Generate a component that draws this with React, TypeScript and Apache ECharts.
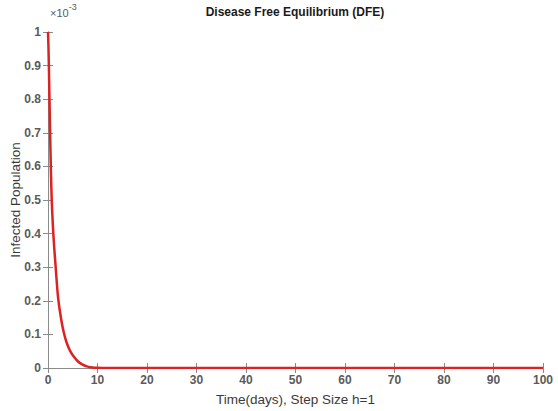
import React, { useEffect, useRef } from "react";
import * as echarts from "echarts";

const times = [0, 0.1, 0.2, 0.4, 0.6, 0.75, 1, 1.25, 1.5, 2, 2.5, 3, 3.5, 4, 4.5, 5, 6, 7, 8, 9, 10, 12, 20, 30, 40, 50, 60, 70, 80, 90, 100];
const infected = [1, 0.95, 0.88, 0.72, 0.58, 0.5, 0.42, 0.36, 0.31, 0.215, 0.16, 0.118, 0.088, 0.066, 0.05, 0.038, 0.02, 0.01, 0.004, 0.0015, 0.0005, 0, 0, 0, 0, 0, 0, 0, 0, 0, 0];
const xTicks = [0, 10, 20, 30, 40, 50, 60, 70, 80, 90, 100];
const yTicks = [0, 0.1, 0.2, 0.3, 0.4, 0.5, 0.6, 0.7, 0.8, 0.9, 1];

const titleText = "Disease Free Equilibrium (DFE)";
const xName = "Time(days), Step Size h=1";
const yName = "Infected Population";

export default function App() {
  const ref = useRef<HTMLDivElement>(null);
  useEffect(() => {
    if (!ref.current) return;
    const chart = echarts.init(ref.current, null, { renderer: "svg" });
    const axisLine = { lineStyle: { color: "#8a8a8a", width: 1 } };
    const tick = { inside: true, length: 5, lineStyle: { color: "#8a8a8a" } };
    const lbl = { color: "#5a5a5a", fontSize: 12, fontFamily: "Liberation Sans, Arial", fontWeight: "bold" as const };
    const nameStyle = { fontSize: 13.5, color: "#3a3a3a", fontFamily: "Liberation Sans, Arial", verticalAlign: "middle" as const };
    chart.setOption({
      animation: false,
      backgroundColor: "#ffffff",
      title: {
        text: titleText,
        left: 295,
        top: 6,
        padding: 0,
        textAlign: "center",
        textStyle: { fontSize: 12, fontWeight: "bold", color: "#1a1a1a", fontFamily: "Liberation Sans, Arial" },
      },
      grid: { left: 48, right: 15, top: 32, bottom: 43, containLabel: false, outerBoundsMode: "none" },
      xAxis: [
        {
          type: "value",
          min: 0,
          max: 100,
          interval: 10,
          axisLine,
          axisTick: tick,
          splitLine: { show: false },
          axisLabel: { ...lbl, margin: 6, formatter: (v: number) => (xTicks.includes(v) ? String(v) : "") },
          name: xName,
          nameLocation: "middle",
          nameGap: 31,
          nameMoveOverlap: false,
          nameTextStyle: nameStyle,
        },
        {
          type: "value",
          position: "top",
          min: 0,
          max: 100,
          interval: 10,
          axisLine,
          axisTick: tick,
          axisLabel: { show: false },
          splitLine: { show: false },
        },
      ],
      yAxis: [
        {
          type: "value",
          min: 0,
          max: 1,
          interval: 0.1,
          axisLine,
          axisTick: tick,
          splitLine: { show: false },
          axisLabel: {
            ...lbl,
            margin: 7,
            formatter: (v: number) => {
              const r = Math.round(v * 10) / 10;
              return yTicks.includes(r) ? String(r) : "";
            },
          },
          name: yName,
          nameLocation: "middle",
          nameGap: 33,
          nameMoveOverlap: false,
          nameTextStyle: nameStyle,
        },
        {
          type: "value",
          position: "right",
          min: 0,
          max: 1,
          interval: 0.1,
          axisLine,
          axisTick: tick,
          axisLabel: { show: false },
          splitLine: { show: false },
        },
      ],
      graphic: [
        {
          type: "text",
          left: 50,
          top: 2,
          style: {
            text: "{a|×10}{b|-3}",
            rich: {
              a: { fontSize: 11, fill: "#5a5a5a", fontFamily: "Liberation Sans, Arial", padding: [7, 0, 0, 0] },
              b: { fontSize: 9, fill: "#5a5a5a", fontFamily: "Liberation Sans, Arial", padding: [0, 0, 5, 0] },
            },
          },
        },
      ],
      series: [
        {
          type: "line",
          data: times.map((t, i) => [t, infected[i]]),
          showSymbol: false,
          smooth: 0.3,
          lineStyle: { color: "#dd2222", width: 2.5 },
          clip: true,
        },
      ],
    });
    return () => chart.dispose();
  }, []);
  return <div ref={ref} style={{ width: 558, height: 411, position: "absolute", left: 0, top: 0 }} />;
}
